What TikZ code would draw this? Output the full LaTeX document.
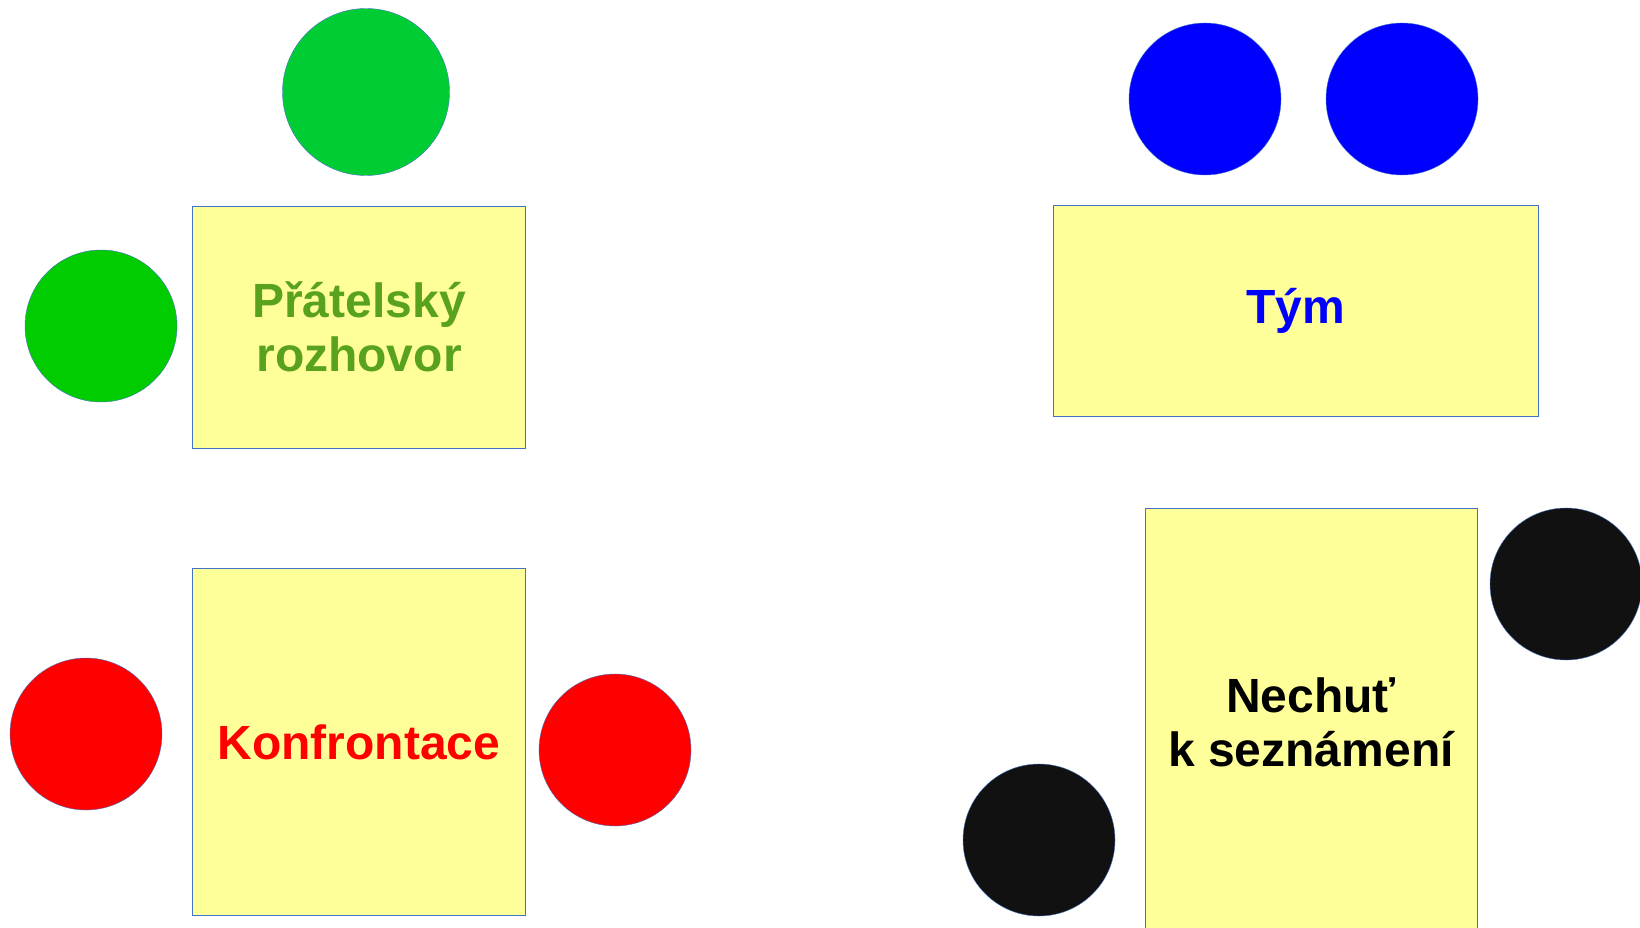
\documentclass[tikz,border=0pt]{standalone}
\usepackage{fontspec}
\setmainfont{Liberation Sans}
\usepackage{tikz}

\definecolor{cardyellow}{HTML}{FFFF99}
\definecolor{cardedge}{HTML}{4472C4}
\definecolor{talkgreen}{HTML}{58A21D}
\definecolor{greenA}{HTML}{00CC33}
\definecolor{greenB}{HTML}{00CC00}
\definecolor{nearblack}{HTML}{111111}

\tikzset{
    card/.style={draw=cardedge, line width=0.6pt, fill=cardyellow, rectangle, inner sep=0pt,
        align=center, font=\bfseries\fontsize{48}{54}\selectfont},
    person/.style={circle, draw=cardedge, line width=0.4pt, inner sep=0pt, minimum size=152pt}
}

\begin{document}
\begin{tikzpicture}[x=1pt, y=-1pt]
        \useasboundingbox (0,0) rectangle (1640,928);
        \clip (0,0) rectangle (1640,928);

        % friendly talk
        \node[card, minimum width=333pt, minimum height=242pt, text=talkgreen] (talk) at (359,327) {Přátelský\\ rozhovor};
        \node[person, fill=greenA, minimum size=167pt] (talkA) at (366,92) {};
        \node[person, fill=greenB] (talkB) at (101,326) {};

        % team
        \node[card, minimum width=485pt, minimum height=211pt, text=blue] (team) at (1296,311) {Tým};
        \node[person, fill=blue] (teamA) at (1205,99) {};
        \node[person, fill=blue] (teamB) at (1402,99) {};

        % confrontation
        \node[card, minimum width=333pt, minimum height=347pt, text=red] (clash) at (359,742) {Konfrontace};
        \node[person, fill=red] (clashA) at (86,734) {};
        \node[person, fill=red] (clashB) at (615,750) {};

        % reluctance
        \node[card, minimum width=332pt, minimum height=428pt, text=black] (shy) at (1311,722) {Nechuť\\ k seznámení};
        \node[person, fill=nearblack] (shyA) at (1566,584) {};
        \node[person, fill=nearblack] (shyB) at (1039,840) {};
    \end{tikzpicture}
\end{document}
